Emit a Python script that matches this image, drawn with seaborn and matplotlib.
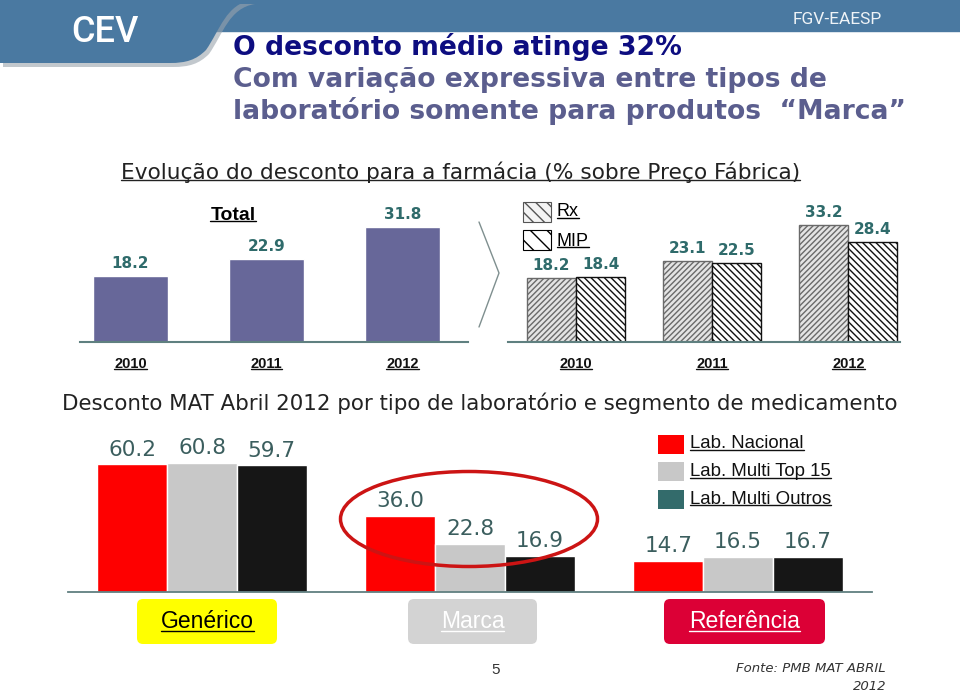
import numpy as np
import pandas as pd
import seaborn as sns
import matplotlib
matplotlib.use("Agg")
import matplotlib.pyplot as plt
from matplotlib.patches import Ellipse, FancyBboxPatch, Rectangle, PathPatch
from matplotlib.path import Path
from matplotlib.lines import Line2D
from matplotlib.transforms import IdentityTransform

# ---------------- data ----------------
years = ["2010", "2011", "2012"]
total_vals = [18.2, 22.9, 31.8]
seg_types = ["Rx", "MIP"]
rx_vals = [18.2, 23.1, 33.2]
mip_vals = [18.4, 22.5, 28.4]
segments = ["Genérico", "Marca", "Referência"]
lab_types = ["Lab. Nacional", "Lab. Multi Top 15", "Lab. Multi Outros"]
nacional_vals = [60.2, 36.0, 14.7]
top15_vals = [60.8, 22.8, 16.5]
outros_vals = [59.7, 16.9, 16.7]

title_lines = ["O desconto médio atinge 32%",
               "Com variação expressiva entre tipos de",
               "laboratório somente para produtos  \u201cMarca\u201d"]
subtitle_top = "Evolução do desconto para a farmácia (% sobre Preço Fábrica)"
subtitle_bottom = "Desconto MAT Abril 2012 por tipo de laboratório e segmento de medicamento"

# ---------------- setup ----------------
W, H = 960, 692
sns.set_theme(style="white")
plt.rcParams["font.family"] = ["DejaVu Sans"]
plt.rcParams["hatch.linewidth"] = 1.0
fig = plt.figure(figsize=(9.6, 6.92), dpi=100)
fig.patch.set_facecolor("white")
PX = IdentityTransform()


def fy(y):
    return H - y


def px_axes(x0, y0, x1, y1):
    ax = fig.add_axes([x0 / W, 1 - y1 / H, (x1 - x0) / W, (y1 - y0) / H])
    ax.patch.set_alpha(0)
    return ax


def ftext(x, y, s, **kw):
    return fig.text(x / W, 1 - y / H, s, **kw)


underlined = []

# ---------------- header ----------------
fig.add_artist(Rectangle((0, fy(31)), W, 31, transform=PX, color="#4a79a1", zorder=1))
tab = [(0, 0), (252, 0), (226, 4), (220, 30), (206, 50), (196, 60), (186, 63), (170, 63), (0, 63), (0, 0)]
codes = [Path.MOVETO, Path.LINETO, Path.CURVE4, Path.CURVE4, Path.CURVE4,
         Path.CURVE4, Path.CURVE4, Path.CURVE4, Path.LINETO, Path.CLOSEPOLY]
shadow = Path([(x + 3, fy(y + 4)) for x, y in tab], codes)
fig.add_artist(PathPatch(shadow, transform=PX, facecolor="#9aa4ad", edgecolor="none", alpha=0.6, zorder=1))
fig.add_artist(PathPatch(Path([(x, fy(y)) for x, y in tab], codes), transform=PX,
                         facecolor="#4a79a1", edgecolor="none", zorder=2))
ftext(105, 33, "CEV", color="white", fontsize=26, fontfamily="Roboto", fontweight="medium",
      ha="center", va="center", zorder=3)
ftext(882, 19, "FGV-EAESP", color="#eef3f7", fontsize=12.5, fontfamily="Roboto",
      ha="right", va="center", zorder=3)

ftext(233, 47, title_lines[0], color="#0d0d80", fontsize=19.2, fontweight="bold", va="center")
ftext(233, 80, title_lines[1], color="#5b5e8e", fontsize=19.2, fontweight="bold", va="center")
ftext(233, 111, title_lines[2], color="#5b5e8e", fontsize=19.2, fontweight="bold", va="center")

underlined.append(ftext(121, 172, subtitle_top, color="#222222", fontsize=15.6, va="center"))
ftext(62, 403, subtitle_bottom, color="#222222", fontsize=15.4, va="center")

# ---------------- top-left: Total ----------------
ax1 = px_axes(80, 190, 468, 342)
df_total = pd.DataFrame({"year": years, "value": total_vals})
sns.barplot(data=df_total, x="year", y="value", color="#676799", saturation=1,
            width=0.55, ax=ax1)
ax1.set_xlim(-0.37, 2.48)
ax1.set_ylim(0, 41.9)
ax1.bar_label(ax1.containers[0], fmt="%.1f", padding=3.5, color="#2f6b6b",
              fontweight="bold", fontsize=11)
underlined.append(ftext(233, 215, "Total", fontsize=14, fontweight="bold",
                        fontfamily="Liberation Sans", ha="center", va="center", color="black"))

# ---------------- top-right: Rx / MIP ----------------
ax2 = px_axes(508, 190, 900, 342)
df_seg = pd.DataFrame({"year": years * 2,
                       "tipo": [seg_types[0]] * 3 + [seg_types[1]] * 3,
                       "value": rx_vals + mip_vals})
sns.barplot(data=df_seg, x="year", y="value", hue="tipo", hue_order=seg_types,
            palette={"Rx": "#e4e4e4", "MIP": "#ffffff"}, saturation=1,
            width=0.72, ax=ax2, legend=False)
ax2.set_xlim(-0.5, 2.38)
ax2.set_ylim(0, 43.2)
for b in ax2.containers[0]:
    b.set_hatch("//////")
    b.set_edgecolor("#6a6a6a")
    b.set_linewidth(1.0)
for b in ax2.containers[1]:
    b.set_hatch("\\\\\\\\\\")
    b.set_edgecolor("#111111")
    b.set_linewidth(1.0)
for c in ax2.containers:
    ax2.bar_label(c, fmt="%.1f", padding=3.5, color="#2f6b6b", fontweight="bold", fontsize=11)

# legend Rx / MIP
fig.add_artist(Rectangle((523, fy(222)), 28, 20, transform=PX, facecolor="#f4f4f4",
                         edgecolor="#555555", hatch="\\\\\\", lw=0.8, zorder=3))
fig.add_artist(Rectangle((523, fy(250)), 28, 20, transform=PX, facecolor="white",
                         edgecolor="black", hatch="\\\\", lw=0.8, zorder=3))
underlined.append(ftext(557, 212, "Rx", fontsize=13, fontfamily="Liberation Sans",
                        va="center", color="black"))
underlined.append(ftext(557, 241, "MIP", fontsize=13, fontfamily="Liberation Sans",
                        va="center", color="black"))

for ax in (ax1, ax2):
    sns.despine(ax=ax, left=True)
    ax.spines["bottom"].set_color("#5f8080")
    ax.spines["bottom"].set_linewidth(1.5)
    ax.set_yticks([])
    ax.set_xlabel("")
    ax.set_ylabel("")
    ax.tick_params(axis="x", length=0, pad=11)
    for t in ax.get_xticklabels():
        t.set_fontweight("bold")
        t.set_fontsize(10.5)
        t.set_fontfamily("Liberation Sans")
        t.set_color("#111111")

# chevron
fig.add_artist(Line2D([479, 499, 479], [fy(222), fy(273), fy(327)], transform=PX,
                      color="#7f8f8f", lw=1.0))

# ---------------- bottom: labs ----------------
ax3 = px_axes(68, 440, 872, 592)
df_lab = pd.DataFrame({"segmento": segments * 3,
                       "lab": [lab_types[0]] * 3 + [lab_types[1]] * 3 + [lab_types[2]] * 3,
                       "value": nacional_vals + top15_vals + outros_vals})
sns.barplot(data=df_lab, x="segmento", y="value", hue="lab", hue_order=lab_types,
            palette=["#fe0000", "#c8c8c8", "#161616"], saturation=1, width=0.78,
            ax=ax3, legend=False, edgecolor="white", linewidth=1.0)
ax3.set_xlim(-0.5, 2.5)
ax3.set_ylim(0, 71.7)
for c in ax3.containers:
    ax3.bar_label(c, fmt="%.1f", padding=3.5, color="#3b5e5e", fontsize=15.5)
sns.despine(ax=ax3, left=True)
ax3.spines["bottom"].set_color("#607f80")
ax3.spines["bottom"].set_linewidth(1.3)
ax3.set_yticks([])
ax3.set_xticks([])
ax3.set_xlabel("")
ax3.set_ylabel("")

# ellipse around Marca
fig.add_artist(Ellipse((469, fy(519)), 257, 95, transform=PX, fill=False,
                       edgecolor="#cc1414", lw=2.5, zorder=10))

# legend labs
leg_colors = ["#fe0000", "#c8c8c8", "#336b6b"]
for i, (lab, col) in enumerate(zip(lab_types, leg_colors)):
    yc = 444 + i * 27.5
    fig.add_artist(Rectangle((658, fy(yc + 9.5)), 26, 19, transform=PX, facecolor=col,
                             edgecolor="none", zorder=3))
    underlined.append(ftext(690, yc, lab, fontsize=13.4, fontfamily="Liberation Sans",
                            va="center", color="#111111"))

# segment boxes
boxes = [(137, 277, "#ffff00", "black"), (408, 537, "#d3d3d3", "white"),
         (664, 825, "#dc0036", "white")]
for (x0, x1, fc, tc), seg in zip(boxes, segments):
    fig.add_artist(FancyBboxPatch((x0 + 6, fy(644) + 6), x1 - x0 - 12, 45 - 12,
                                  boxstyle="round,pad=6", transform=PX,
                                  facecolor=fc, edgecolor="none", zorder=3))
    underlined.append(ftext((x0 + x1) / 2, 622, seg, fontsize=16.5, fontfamily="Liberation Sans",
                            ha="center", va="center", color=tc, zorder=4))

# footer
ftext(496, 670, "5", fontsize=11, fontfamily="Liberation Sans", ha="center", va="center",
      color="#333333")
ftext(886, 668, "Fonte: PMB MAT ABRIL", fontsize=9.5, fontstyle="italic", ha="right",
      va="center", color="#333333")
ftext(886, 686, "2012", fontsize=9.5, fontstyle="italic", ha="right", va="center",
      color="#333333")

# ---------------- underlines ----------------
fig.canvas.draw()
renderer = fig.canvas.get_renderer()
for ax in (ax1, ax2):
    underlined.extend(ax.get_xticklabels())
for t in underlined:
    bb = t.get_window_extent(renderer)
    y = bb.y0 + 0.13 * bb.height
    fig.add_artist(Line2D([bb.x0, bb.x1], [y, y], transform=PX, color=t.get_color(),
                          lw=1.0, zorder=5))

fig.savefig("out.png", dpi=100)
